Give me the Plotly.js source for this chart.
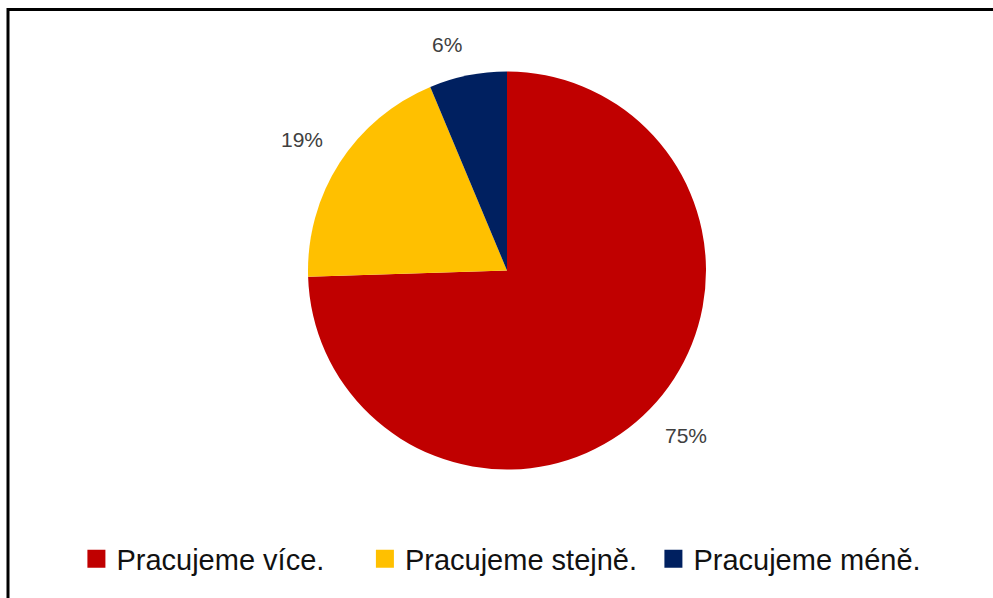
<!DOCTYPE html>
<html>
<head>
<meta charset="utf-8">
<script src="https://cdn.plot.ly/plotly-3.0.1.min.js"></script>
<style>
  html, body { margin: 0; padding: 0; background: #fff; }
  #chart { width: 993px; height: 598px; }
</style>
</head>
<body>
<div id="chart"></div>
<script>
// ---- data ----
const categories = ["Pracujeme více.", "Pracujeme stejně.", "Pracujeme méně."];
const values = [74.5, 19.2, 6.3];
const colors = ["#C00000", "#FFC000", "#002060"];

// ---- layout geometry (pixels) ----
const W = 993, H = 598;
const cx = 507, cy = 270.5, R = 199;
const labelGap = 18;

const total = values.reduce((a, b) => a + b, 0);
const annotations = [];
let cum = 0;
values.forEach((v, i) => {
  const mid = (cum + v / 2) / total;
  cum += v;
  const th = mid * 2 * Math.PI;
  const dx = Math.sin(th), dy = -Math.cos(th);
  const px = cx + (R + labelGap) * dx;
  const py = cy + (R + labelGap) * dy;
  annotations.push({
    xref: "paper", yref: "paper",
    x: px / W, y: 1 - py / H,
    xanchor: Math.abs(dx) < 0.05 ? "center" : (dx > 0 ? "left" : "right"),
    yanchor: dy > 0 ? "top" : "bottom",
    text: Math.round(v / total * 100) + "%",
    showarrow: false,
    font: { family: "Liberation Sans, Arial, sans-serif", size: 21, color: "#404040" }
  });
});

const trace = {
  type: "pie",
  labels: categories,
  values: values,
  marker: { colors: colors, line: { width: 0 } },
  sort: false,
  direction: "clockwise",
  rotation: 0,
  textinfo: "none",
  hoverinfo: "label+percent",
  domain: { x: [(cx - R) / W, (cx + R) / W], y: [1 - (cy + R) / H, 1 - (cy - R) / H] }
};

const layout = {
  width: W, height: H,
  margin: { l: 0, r: 0, t: 0, b: 0 },
  paper_bgcolor: "#ffffff",
  showlegend: true,
  legend: {
    orientation: "h",
    x: 0.513, xanchor: "center",
    y: 1 - 559 / H, yanchor: "middle",
    entrywidth: 243.5, entrywidthmode: "pixels",
    font: { family: "Liberation Sans, Arial, sans-serif", size: 29, color: "#111111" },
    itemclick: false, itemdoubleclick: false
  },
  annotations: annotations,
  shapes: [{
    type: "path", xref: "paper", yref: "paper",
    path: "M " + (8 / W) + " -0.01 L " + (8 / W) + " " + (1 - 9.5 / H) + " L 1.01 " + (1 - 9.5 / H),
    line: { color: "#000000", width: 3 }
  }]
};

Plotly.newPlot("chart", [trace], layout, { displayModeBar: false, staticPlot: true }).then(gd => {
  // enlarge legend swatches to match the reference square markers
  gd.querySelectorAll(".legend .legendpoints path").forEach(p => {
    p.setAttribute("d", "M9,9H-9V-9H9Z");
  });
});
</script>
</body>
</html>
